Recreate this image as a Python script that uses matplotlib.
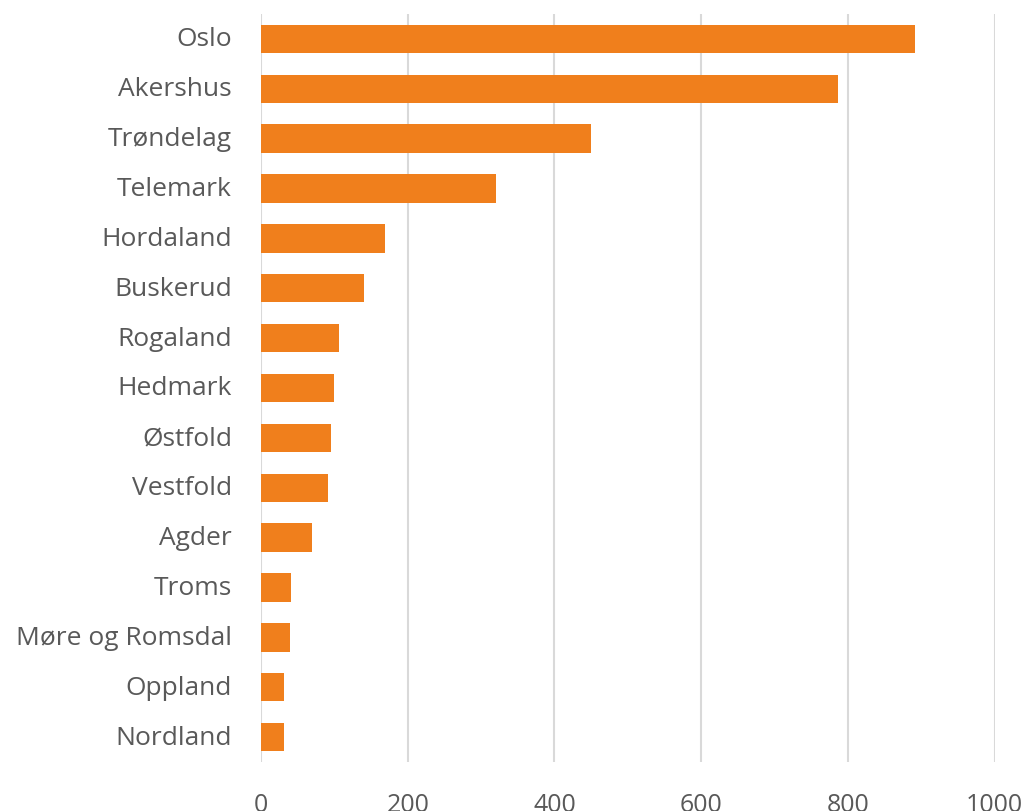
import matplotlib
matplotlib.use("Agg")
import matplotlib.pyplot as plt
from matplotlib.transforms import ScaledTranslation

# Fylker sorted by value, largest first
fylker = ["Oslo", "Akershus", "Trøndelag", "Telemark", "Hordaland", "Buskerud",
          "Rogaland", "Hedmark", "Østfold", "Vestfold", "Agder", "Troms",
          "Møre og Romsdal", "Oppland", "Nordland"]
verdier = [892, 786, 450, 321, 169, 141, 106, 99, 95, 91, 69, 41, 40, 32, 32]
x_ticks = [0, 200, 400, 600, 800, 1000]

BAR = "#F07F1C"
TEXT = "#595959"
GRID = "#D9D9D9"

plt.rcParams["font.family"] = ["Open Sans", "DejaVu Sans"]

fig = plt.figure(figsize=(10.22, 8.11), dpi=100)
ax = fig.add_axes([261 / 1022, 49 / 811, 733.5 / 1022, 748 / 811])

pos = list(range(len(fylker)))
ax.barh(pos, verdier, height=0.57, color=BAR, zorder=3)

ax.set_xlim(0, 1000)
ax.set_ylim(len(fylker) - 0.5, -0.5)
ax.set_yticks(pos)
ax.set_yticklabels(fylker)
ax.set_xticks(x_ticks)
ax.set_xticklabels([str(t) for t in x_ticks])

ax.grid(axis="x", color=GRID, linewidth=1.5, zorder=0)
for s in ax.spines.values():
    s.set_visible(False)
ax.tick_params(axis="y", length=0, labelsize=19, labelcolor=TEXT, pad=29 * 0.72)
ax.tick_params(axis="x", length=0, labelsize=18, labelcolor=TEXT, pad=22)

# nudge category labels up slightly so they sit on the bar centres
lift = ScaledTranslation(0, 2 / 100, fig.dpi_scale_trans)
for lbl in ax.get_yticklabels():
    lbl.set_transform(lbl.get_transform() + lift)

fig.savefig("out.png", dpi=100, facecolor="white")
